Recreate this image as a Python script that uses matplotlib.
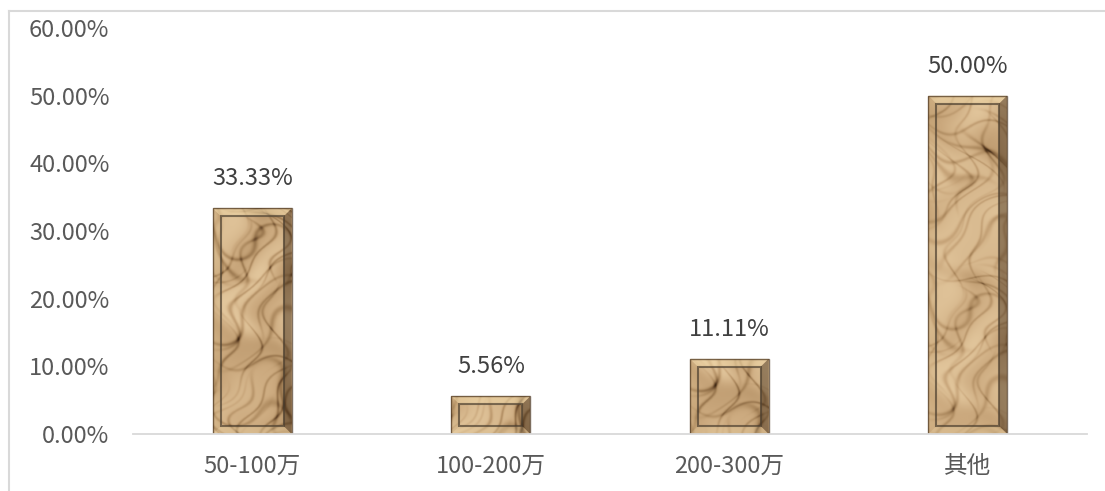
import numpy as np
import matplotlib
matplotlib.use("Agg")
import matplotlib.pyplot as plt
from matplotlib.colors import LinearSegmentedColormap
from matplotlib.patches import Polygon, Rectangle
from matplotlib.lines import Line2D

plt.rcParams['font.family'] = ['Noto Sans CJK SC', 'DejaVu Sans']

categories = ['50-100万', '100-200万', '200-300万', '其他']
values = [0.3333, 0.0556, 0.1111, 0.50]
labels = ['33.33%', '5.56%', '11.11%', '50.00%']
yticks = [0, 0.1, 0.2, 0.3, 0.4, 0.5, 0.6]

W, H = 1105, 491
fig = plt.figure(figsize=(W / 100, H / 100), dpi=100)
ax = fig.add_axes([133 / W, 57 / H, (1087 - 133) / W, (434 - 28) / H])

x = np.arange(len(categories))
bars = ax.bar(x, values, width=0.33, color='none', edgecolor='none', zorder=2)
ax.set_xlim(-0.5, len(categories) - 0.5)
ax.set_ylim(0, 0.6)

# crumpled paper look (fixed waves, decoration only)
paper = LinearSegmentedColormap.from_list(
    'paper', ['#3e2812', '#65462a', '#8c6a44', '#b08d62', '#cba97e', '#e2c69c'])
gx, gy = np.meshgrid(np.linspace(0, 1, 100), np.linspace(0, 7, 700))
u = gx + 0.22 * np.sin(2.9 * gy + 1.1) + 0.09 * np.sin(6.1 * gy + 3.0 * gx)
v = gy + 0.3 * np.sin(4.6 * gx + 0.7) + 0.12 * np.sin(4.7 * gy)
shade = (0.5 * np.sin(4.1 * u + 2.4 * v) + 0.4 * np.sin(-3.2 * u + 3.3 * v + 1.0)
         + 0.3 * np.sin(7.5 * u - 1.9 * v + 2.0) + 0.2 * np.sin(9.0 * u + 5.0 * v))
creases = np.zeros_like(gx)
for a, b, c in [(5.0, 3.6, 0.3), (-4.5, 4.1, 1.9), (8.2, -2.2, 3.3), (3.4, 5.8, 4.7),
                (-7.8, 2.0, 0.8), (2.3, -4.6, 2.6), (10.5, 3.0, 5.5)]:
    s = np.sin(a * u + b * v + c)
    creases += np.exp(-(s / 0.2) ** 2) * np.clip(np.sin(2.3 * v + 1.3 * c) + 0.3, 0, None)
tex = 1.0 + 0.45 * shade - 0.6 * creases
tex = (tex - tex.min()) / (tex.max() - tex.min())
tex = tex ** 0.75

fig.canvas.draw()
inv = ax.transData.inverted()
p0 = inv.transform((0, 0))
p1 = inv.transform((8, 8))
bx, by = p1[0] - p0[0], p1[1] - p0[1]

for i, r in enumerate(bars):
    x0, w, h = r.get_x(), r.get_width(), r.get_height()
    x1 = x0 + w
    rows = max(int(700 * h / 0.6), 30)
    img = ax.imshow(tex[i * 40:i * 40 + rows], cmap=paper, extent=(x0, x1, 0, h),
                    origin='lower', aspect='auto', zorder=2, interpolation='bilinear')
    img.set_clip_path(Rectangle((x0, 0), w, h, transform=ax.transData))
    # bevel frame
    top = [(x0, h), (x1, h), (x1 - bx, h - by), (x0 + bx, h - by)]
    left = [(x0, 0), (x0, h), (x0 + bx, h - by), (x0 + bx, by)]
    right = [(x1, 0), (x1, h), (x1 - bx, h - by), (x1 - bx, by)]
    bot = [(x0, 0), (x1, 0), (x1 - bx, by), (x0 + bx, by)]
    ax.add_patch(Polygon(top, closed=True, fc='#f0d8a8', alpha=0.55, ec='none', zorder=3))
    ax.add_patch(Polygon(left, closed=True, fc='#c8a878', alpha=0.3, ec='none', zorder=3))
    ax.add_patch(Polygon(right, closed=True, fc='#2e1c0c', alpha=0.4, ec='none', zorder=3))
    ax.add_patch(Polygon(bot, closed=True, fc='#e8cfa0', alpha=0.35, ec='none', zorder=3))
    ax.add_patch(Rectangle((x0 + bx, by), w - 2 * bx, h - 2 * by, fill=False,
                           ec='#4d4030', lw=1.5, alpha=0.7, zorder=4))
    ax.add_patch(Rectangle((x0, 0), w, h, fill=False, ec='#4a3520', lw=1.0, alpha=0.7, zorder=4))
    ax.annotate(labels[i], (x0 + w / 2, h), xytext=(0, 13),
                textcoords='offset points', ha='center', va='bottom',
                fontsize=17, color='#404040')

ax.set_xticks(x)
ax.set_xticklabels(categories, fontsize=17, color='#595959')
ax.set_yticks(yticks)
ax.set_yticklabels(['{:.2f}%'.format(t * 100) for t in yticks], fontsize=17, color='#595959')
ax.tick_params(axis='x', length=0, pad=15)
ax.tick_params(axis='y', length=0, pad=17)
for s in ['top', 'right', 'left']:
    ax.spines[s].set_visible(False)
ax.spines['bottom'].set_color('#d9d9d9')
ax.spines['bottom'].set_linewidth(1.3)
ax.spines['bottom'].set_zorder(5)

# outer chart frame (left and top edges are visible)
fig.add_artist(Line2D([8.5 / W, 8.5 / W], [0, 1 - 11 / H], color='#d9d9d9', lw=1.5))
fig.add_artist(Line2D([8.5 / W, 1], [1 - 11 / H, 1 - 11 / H], color='#d9d9d9', lw=1.5))

fig.savefig('out.png', dpi=100)
